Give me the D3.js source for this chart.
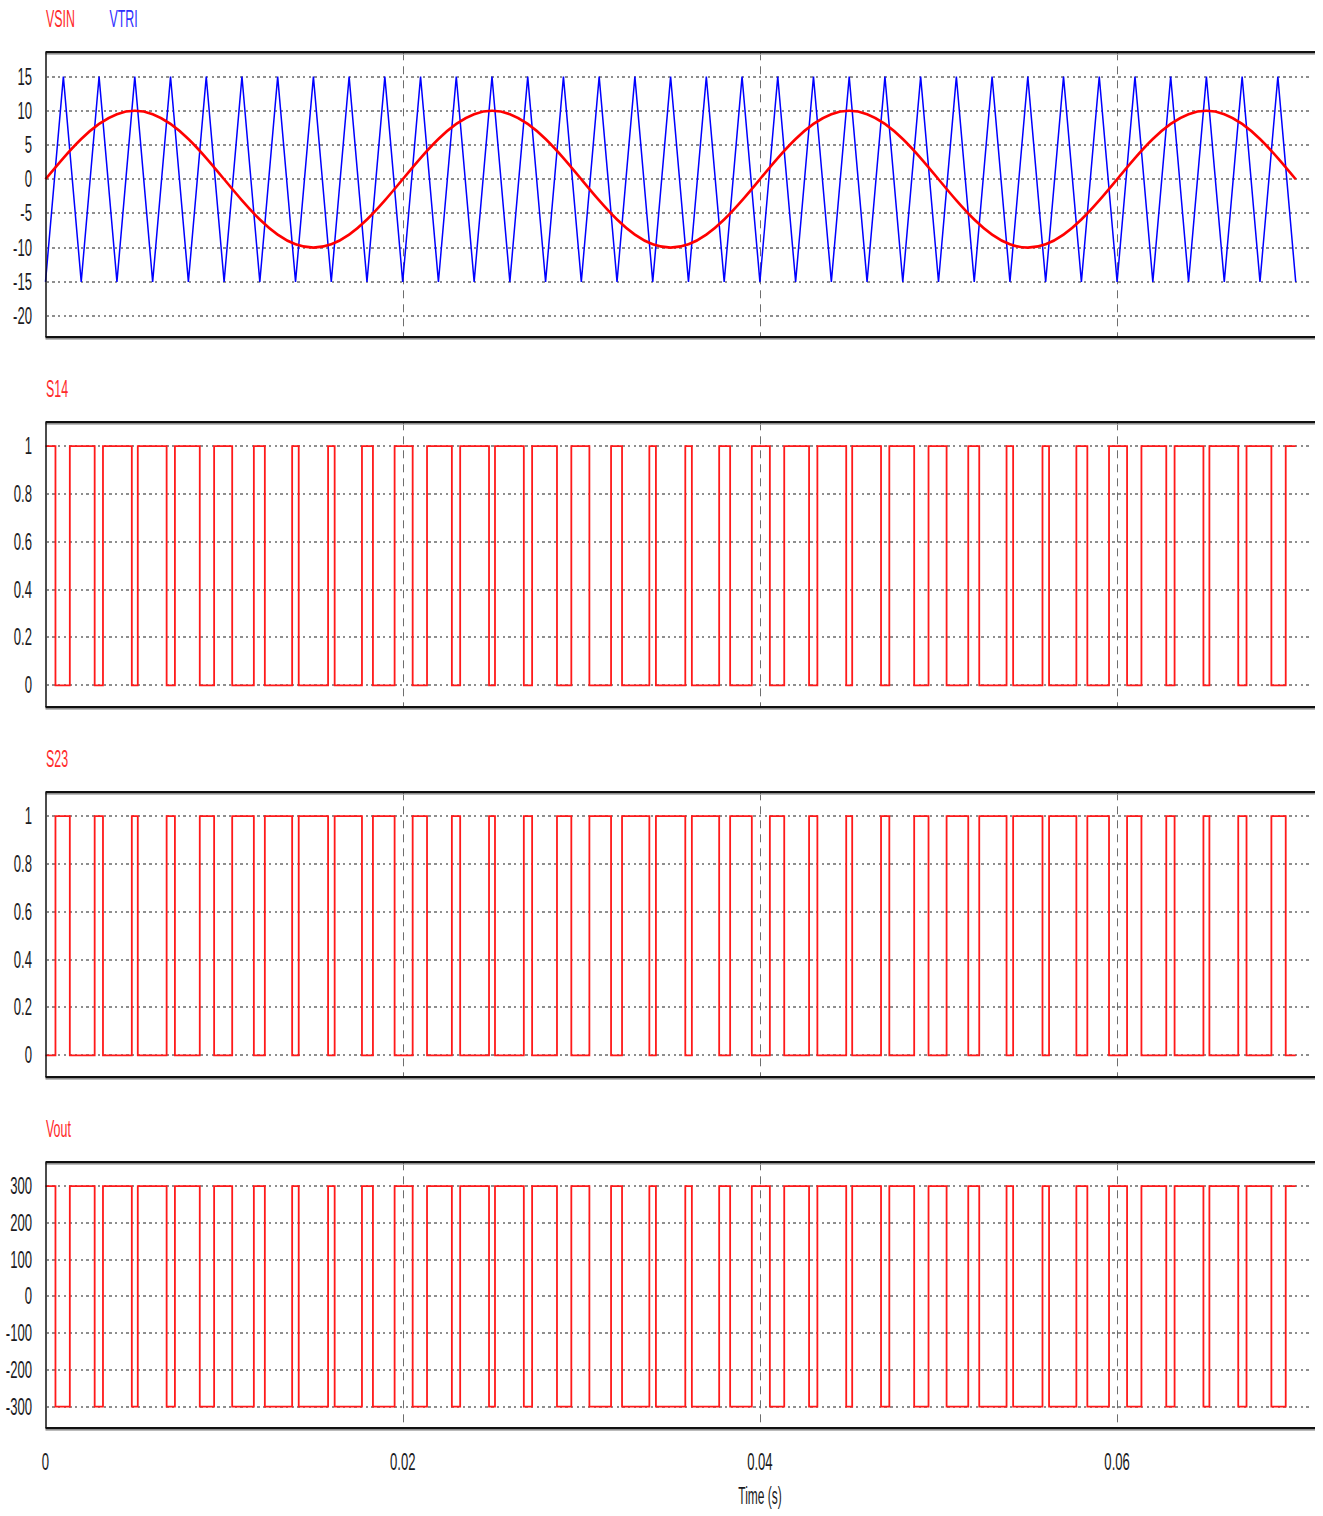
<!DOCTYPE html>
<html><head><meta charset="utf-8">
<script src="https://cdn.jsdelivr.net/npm/d3@7"></script>
<style>body{margin:0;background:#fff} svg{display:block}</style>
</head><body>
<svg id="c" width="1323" height="1516"></svg>
<script>
// ---------- DATA ----------
const timeTicks = [0, 0.02, 0.04, 0.06];
const timeTickLabels = ["0", "0.02", "0.04", "0.06"];
const timeLabel = "Time (s)";

// triangle carrier vertices (ms, V)
const triTimesMs = [0,1,2,3,4,5,6,7,8,9,10,11,12,13,14,15,16,17,18,19,20,21,22,23,24,25,26,27,28,29,30,31,32,33,34,35,36,37,38,39,40,41,42,43,44,45,46,47,48,49,50,51,52,53,54,55,56,57,58,59,60,61,62,63,64,65,66,67,68,69,70];
const triValues = [-15,15,-15,15,-15,15,-15,15,-15,15,-15,15,-15,15,-15,15,-15,15,-15,15,-15,15,-15,15,-15,15,-15,15,-15,15,-15,15,-15,15,-15,15,-15,15,-15,15,-15,15,-15,15,-15,15,-15,15,-15,15,-15,15,-15,15,-15,15,-15,15,-15,15,-15,15,-15,15,-15,15,-15,15,-15,15,-15];

// sine reference samples (ms, V)
const sineTimesMs = [0,1,2,3,4,5,6,7,8,9,10,11,12,13,14,15,16,17,18,19,20,21,22,23,24,25,26,27,28,29,30,31,32,33,34,35,36,37,38,39,40,41,42,43,44,45,46,47,48,49,50,51,52,53,54,55,56,57,58,59,60,61,62,63,64,65,66,67,68,69,70];
const sineValues = [0,3.09,5.88,8.09,9.51,10,9.51,8.09,5.88,3.09,0,-3.09,-5.88,-8.09,-9.51,-10,-9.51,-8.09,-5.88,-3.09,
  0,3.09,5.88,8.09,9.51,10,9.51,8.09,5.88,3.09,0,-3.09,-5.88,-8.09,-9.51,-10,-9.51,-8.09,-5.88,-3.09,
  0,3.09,5.88,8.09,9.51,10,9.51,8.09,5.88,3.09,0,-3.09,-5.88,-8.09,-9.51,-10,-9.51,-8.09,-5.88,-3.09,
  0,3.09,5.88,8.09,9.51,10,9.51,8.09,5.88,3.09,0];

// switching instants (ms) read from the pulse edges
const switchTimesMs = [
  0.558,1.362,2.753,3.218,4.833,5.167,6.782,7.246,8.638,9.441,10.453,11.666,12.281,13.810,14.178,15.822,16.190,17.719,18.333,19.547,
  20.558,21.362,22.753,23.218,24.833,25.167,26.782,27.246,28.638,29.441,30.453,31.666,32.281,33.810,34.178,35.822,36.190,37.719,38.333,39.547,
  40.558,41.362,42.753,43.218,44.833,45.167,46.782,47.246,48.638,49.441,50.453,51.666,52.281,53.810,54.178,55.822,56.190,57.719,58.333,59.547,
  60.558,61.362,62.753,63.218,64.833,65.167,66.782,67.246,68.638,69.441];
const endTimeMs = 70;
const s14Levels = [1, 0];
const s23Levels = [0, 1];
const voutLevels = [300, -300];

const vTicks = [15,10,5,0,-5,-10,-15,-20];
const vTickLabels = ["15","10","5","0","-5","-10","-15","-20"];
const sTicks = [1,0.8,0.6,0.4,0.2,0];
const sTickLabels = ["1","0.8","0.6","0.4","0.2","0"];
const outTicks = [300,200,100,0,-100,-200,-300];
const outTickLabels = ["300","200","100","0","-100","-200","-300"];

// ---------- LAYOUT ----------
const svg = d3.select("#c");
const X0 = 45.5, X1 = 1315;
const x = d3.scaleLinear().domain([0, 0.07108]).range([X0, X1]);
const FONT = "'Liberation Sans', Arial, sans-serif";

function txt(g, s, tx, ty, anchor, color, size, sx) {
  g.append("text").attr("transform", `translate(${tx},${ty}) scale(${sx},1)`)
    .attr("text-anchor", anchor).attr("font-family", FONT).attr("font-size", size)
    .attr("fill", color).text(s);
}

function panel(cfg) {
  const g = svg.append("g");
  const y = d3.scaleLinear().domain(cfg.domain).range([cfg.bottom, cfg.top]);
  // horizontal dotted grid
  g.selectAll(".hg").data(cfg.ticks).join("line")
    .attr("x1", X0 + 1).attr("x2", 1312).attr("y1", d => Math.round(y(d))).attr("y2", d => Math.round(y(d)))
    .attr("stroke", "#8e8e8e").attr("stroke-width", 2).attr("stroke-dasharray", "2.4,3.3")
    .attr("shape-rendering", "crispEdges");
  // vertical dashed grid
  g.selectAll(".vg").data(timeTicks.slice(1)).join("line")
    .attr("x1", d => Math.round(x(d)) + 0.5).attr("x2", d => Math.round(x(d)) + 0.5).attr("y1", cfg.top).attr("y2", cfg.bottom)
    .attr("stroke", "#6e6e6e").attr("stroke-width", 1).attr("stroke-dasharray", "8,6");
  // tick labels
  cfg.ticks.forEach((t, i) => txt(g, cfg.labels[i], 32, y(t) + 8, "end", "#1b1b22", 23, 0.57));
  // titles
  cfg.titles.forEach(tt => txt(g, tt.text, tt.x, cfg.titleY, "start", tt.color, 23, 0.54));
  cfg.draw(g, y);
  // frame
  g.append("line").attr("x1", X0).attr("x2", X1).attr("y1", cfg.top).attr("y2", cfg.top)
    .attr("stroke", "#111").attr("stroke-width", 2.5);
  g.append("line").attr("x1", X0).attr("x2", X1).attr("y1", cfg.top + 2).attr("y2", cfg.top + 2)
    .attr("stroke", "#aaa").attr("stroke-width", 1);
  g.append("line").attr("x1", X0).attr("x2", X1).attr("y1", cfg.bottom).attr("y2", cfg.bottom)
    .attr("stroke", "#111").attr("stroke-width", 2.5);
  g.append("line").attr("x1", X0).attr("x2", X1).attr("y1", cfg.bottom + 2).attr("y2", cfg.bottom + 2)
    .attr("stroke", "#aaa").attr("stroke-width", 1);
  g.append("line").attr("x1", 46).attr("x2", 46).attr("y1", cfg.top).attr("y2", cfg.bottom)
    .attr("stroke", "#111").attr("stroke-width", 1.5);
  return y;
}

function stepPoints(levels) {
  const pts = [{t: 0, v: levels[0]}];
  switchTimesMs.forEach((t, i) => pts.push({t: t, v: levels[(i + 1) % 2]}));
  pts.push({t: endTimeMs, v: levels[switchTimesMs.length % 2]});
  return pts;
}
function drawStep(levels) {
  return (g, y) => {
    const line = d3.line().x(d => x(d.t / 1000)).y(d => y(d.v)).curve(d3.curveStepAfter);
    g.append("path").datum(stepPoints(levels)).attr("d", line)
      .attr("fill", "none").attr("stroke", "#ff1a1a").attr("stroke-width", 1.8);
  };
}

// Panel 1: VSIN / VTRI
panel({
  top: 52.3, bottom: 337.3, domain: [-23.1, 18.55], ticks: vTicks, labels: vTickLabels,
  titleY: 26.5,
  titles: [{text: "VSIN", x: 46, color: "#ff2a2a"}, {text: "VTRI", x: 109.5, color: "#2f2fff"}],
  draw: (g, y) => {
    const tri = triTimesMs.map((t, i) => ({t: t, v: triValues[i]}));
    g.append("path").datum(tri)
      .attr("d", d3.line().x(d => x(d.t / 1000)).y(d => y(d.v)))
      .attr("fill", "none").attr("stroke", "#0000ff").attr("stroke-width", 1.5);
    const sin = sineTimesMs.map((t, i) => ({t: t, v: sineValues[i]}));
    g.append("path").datum(sin)
      .attr("d", d3.line().x(d => x(d.t / 1000)).y(d => y(d.v)).curve(d3.curveNatural))
      .attr("fill", "none").attr("stroke", "#ff0000").attr("stroke-width", 2.6);
  }
});
// Panel 2: S14
panel({
  top: 422.3, bottom: 707.3, domain: [-0.092, 1.1], ticks: sTicks, labels: sTickLabels,
  titleY: 396.5, titles: [{text: "S14", x: 46, color: "#ff2a2a"}],
  draw: drawStep(s14Levels)
});
// Panel 3: S23
panel({
  top: 792.3, bottom: 1077.3, domain: [-0.092, 1.1], ticks: sTicks, labels: sTickLabels,
  titleY: 766.5, titles: [{text: "S23", x: 46, color: "#ff2a2a"}],
  draw: drawStep(s23Levels)
});
// Panel 4: Vout
panel({
  top: 1162.3, bottom: 1428.3, domain: [-359, 365], ticks: outTicks, labels: outTickLabels,
  titleY: 1136.5, titles: [{text: "Vout", x: 46, color: "#ff2a2a"}],
  draw: drawStep(voutLevels)
});

// time axis labels
const ax = svg.append("g");
timeTicks.forEach((t, i) => txt(ax, timeTickLabels[i], x(t), 1470, "middle", "#1b1b22", 23, 0.57));
txt(ax, timeLabel, 760, 1504, "middle", "#1b1b22", 23, 0.52);
</script>
</body></html>
